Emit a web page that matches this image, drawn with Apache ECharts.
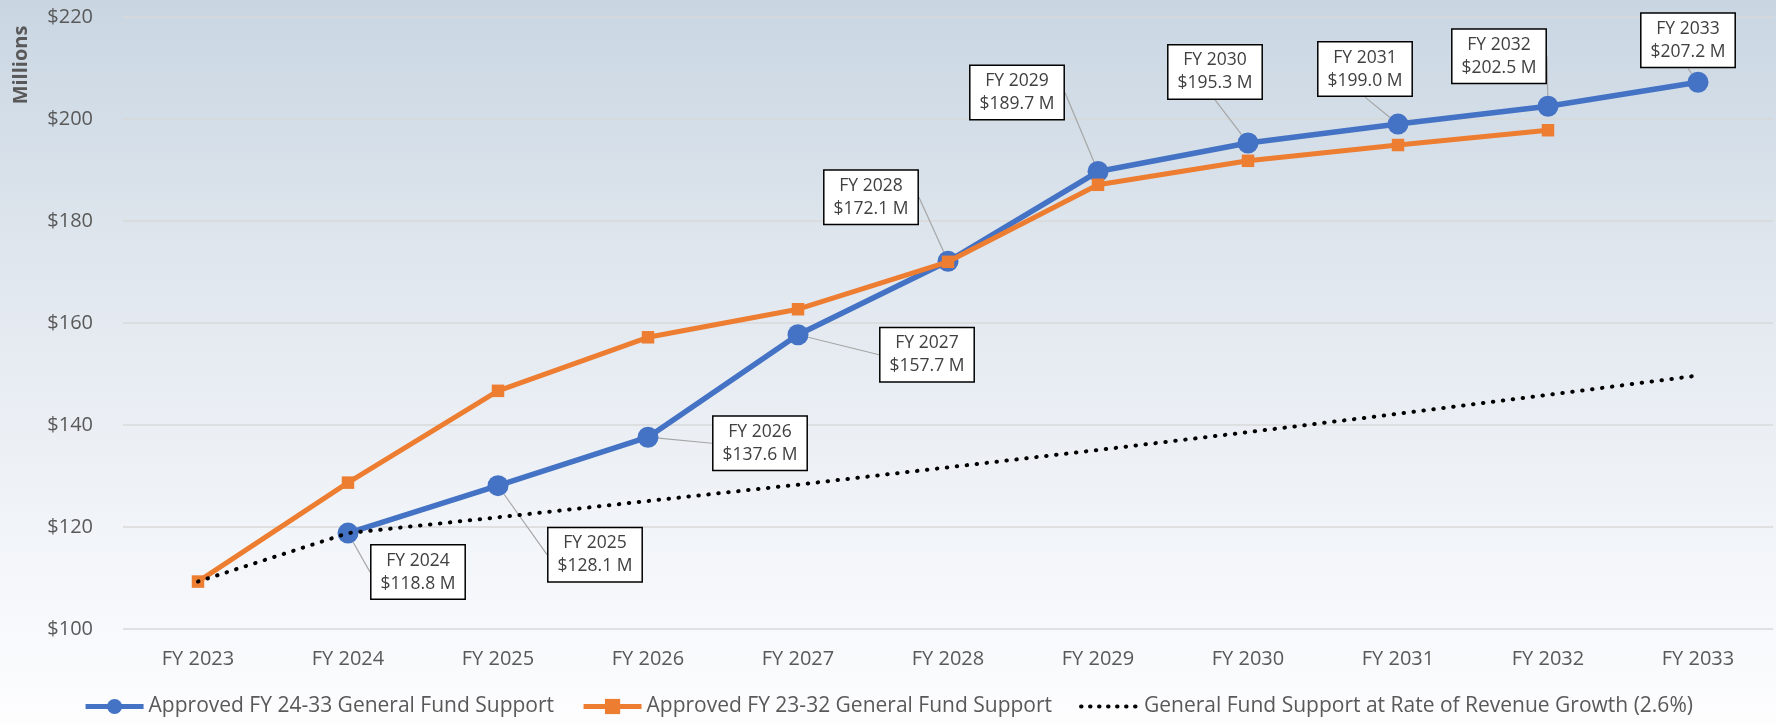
<!DOCTYPE html>
<html>
<head>
<meta charset="utf-8">
<script src="https://cdn.jsdelivr.net/npm/echarts@6/dist/echarts.min.js"></script>
<style>
html,body{margin:0;padding:0;width:1776px;height:724px;overflow:hidden;}
#c{width:1776px;height:724px;}
</style>
</head>
<body>
<div id="c"></div>
<script>
var categories = ['FY 2023','FY 2024','FY 2025','FY 2026','FY 2027','FY 2028','FY 2029','FY 2030','FY 2031','FY 2032','FY 2033'];
var approved2433 = [null, 118.8, 128.1, 137.6, 157.7, 172.1, 189.7, 195.3, 199.0, 202.5, 207.2];
var approved2332 = [109.3, 128.7, 146.7, 157.2, 162.7, 172.0, 187.1, 191.8, 194.9, 197.8, null];
var revenueGrowth = [109.3, 118.8, 121.9, 125.1, 128.3, 131.7, 135.1, 138.6, 142.2, 145.9, 149.7];
var seriesNames = ['Approved FY 24-33 General Fund Support','Approved FY 23-32 General Fund Support','General Fund Support at Rate of Revenue Growth (2.6%)'];
var yTicks = {min: 100, max: 220, interval: 20};

// label box offsets (px) from each data point, layout only
var labelOffsets = [null,[70,39],[97,69],[112,6],[129,20],[-77,-64],[-81,-79],[-33,-71],[-33,-55],[-49,-50],[-10,-42]];

var FONT = 'Open Sans';
var chart = echarts.init(document.getElementById('c'));
chart.setOption({
  animation: false,
  backgroundColor: new echarts.graphic.LinearGradient(0,0,0,1,[
    {offset:0,color:'#c9d6e2'},
    {offset:0.4,color:'#e2e8ef'},
    {offset:0.75,color:'#f2f5f9'},
    {offset:1,color:'#fdfdfe'}
  ]),
  textStyle: {fontFamily: FONT},
  grid: {left: 123, right: 3, top: 17, bottom: 95},
  graphic: [{
    type: 'text', x: 21, y: 65, rotation: Math.PI/2,
    style: {text: 'Millions', font: 'bold 20px "Open Sans"', fill: '#595959', align: 'center', verticalAlign: 'middle'}
  }],
  xAxis: {
    type: 'category', data: categories, boundaryGap: true,
    axisLine: {show: false}, axisTick: {show: false},
    axisLabel: {color: '#595959', fontSize: 20, margin: 20, fontFamily: FONT}
  },
  yAxis: {
    type: 'value', min: yTicks.min, max: yTicks.max, interval: yTicks.interval,
    axisLine: {show: false}, axisTick: {show: false},
    axisLabel: {color: '#595959', fontSize: 20, margin: 30, fontFamily: FONT, formatter: '${value}'},
    splitLine: {lineStyle: {color: '#d9d9d9', width: 1.5}}
  },
  legend: {
    bottom: 2, left: 'center', itemWidth: 58, itemHeight: 19, itemGap: 27,
    textStyle: {color: '#595959', fontSize: 21, fontFamily: FONT},
    data: [
      {name: seriesNames[0], lineStyle: {width: 5, color: '#4472c4'}},
      {name: seriesNames[1], lineStyle: {width: 5, color: '#ed7d31'}},
      {name: seriesNames[2], itemStyle: {opacity: 0}, lineStyle: {width: 4, color: '#000000', type: [0.5, 8.5], cap: 'round'}}
    ]
  },
  series: [
    {
      name: seriesNames[0], type: 'line', data: approved2433,
      symbol: 'circle', symbolSize: 21,
      lineStyle: {color: '#4472c4', width: 5.5},
      itemStyle: {color: '#4472c4'},
      label: {
        show: true, position: 'inside',
        formatter: function(p){ return p.name + '\n$' + p.value.toFixed(1) + ' M'; },
        color: '#404040', fontSize: 17.5, fontFamily: FONT, lineHeight: 23,
        backgroundColor: '#ffffff', borderColor: '#000000', borderWidth: 1.5,
        padding: [4, 9, 3, 9], align: 'center'
      },
      labelLine: {show: true, lineStyle: {color: '#a6a6a6', width: 1.2}},
      labelLayout: function(p){
        var o = labelOffsets[p.dataIndex];
        return o ? {dx: o[0], dy: o[1]} : {};
      },
      z: 2
    },
    {
      name: seriesNames[1], type: 'line', data: approved2332,
      symbol: 'rect', symbolSize: 12.5,
      lineStyle: {color: '#ed7d31', width: 5},
      itemStyle: {color: '#ed7d31'},
      z: 3
    },
    {
      name: seriesNames[2], type: 'line', data: revenueGrowth,
      symbol: 'none',
      lineStyle: {color: '#000000', width: 4, type: [0.5, 9.5], cap: 'round'},
      itemStyle: {color: '#000000'},
      z: 4
    }
  ]
});
</script>
</body>
</html>
